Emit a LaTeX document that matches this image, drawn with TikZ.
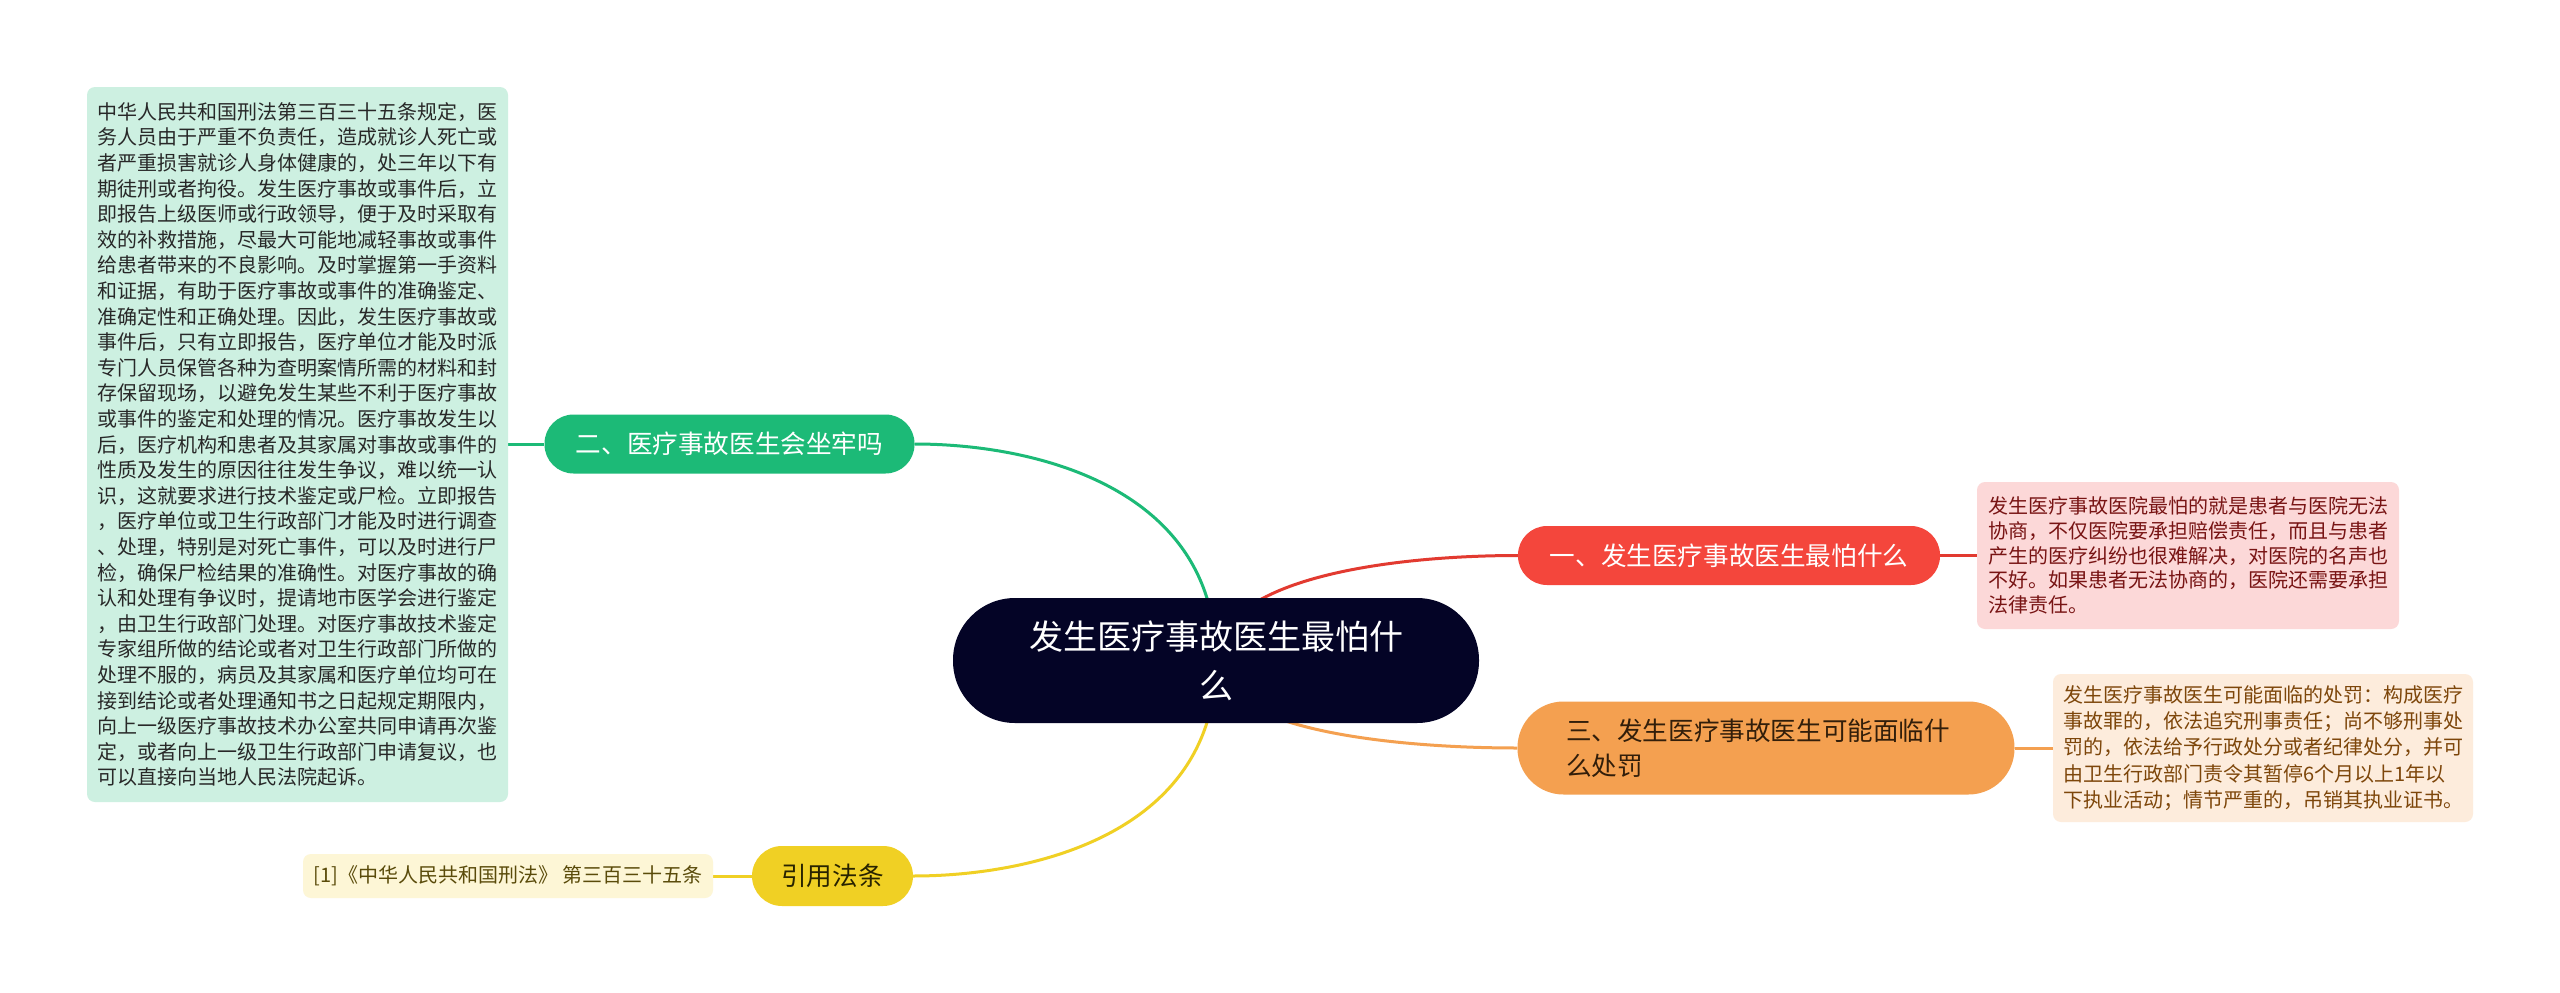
\documentclass[tikz,border=0pt]{standalone}
\usepackage{fontspec}
\setmainfont{Noto Sans CJK SC}
\usetikzlibrary{calc}
\pgfdeclarelayer{paper}
\pgfdeclarelayer{bg}
\pgfsetlayers{paper,bg,main}
\definecolor{navy}{RGB}{4,4,38}
\definecolor{gcol}{RGB}{28,186,119}
\definecolor{gbox}{RGB}{205,240,225}
\definecolor{rcol}{RGB}{244,70,60}
\definecolor{rline}{RGB}{226,58,48}
\definecolor{rbox}{RGB}{252,216,216}
\definecolor{rtxt}{RGB}{120,20,20}
\definecolor{ocol}{RGB}{244,160,80}
\definecolor{otxt}{RGB}{50,30,10}
\definecolor{obox}{RGB}{253,236,220}
\definecolor{otxt2}{RGB}{125,70,10}
\definecolor{ycol}{RGB}{240,208,36}
\definecolor{ytxt}{RGB}{40,35,0}
\definecolor{ybox}{RGB}{253,246,214}
\definecolor{ytxt2}{RGB}{90,75,10}
\definecolor{darktxt}{RGB}{40,40,40}
\newcommand{\branchcurve}[3]{%
  \draw[link, #1] (#2) .. controls ($(#2 |- #3)!0.2!(#2)$) and ($(#2 |- #3)!0.6!(#3)$) .. (#3);}
\begin{document}
\begin{tikzpicture}[x=1pt,y=-1pt,
  topic/.style={rounded corners=29pt, inner sep=0pt, minimum height=59pt,
    font=\fontsize{25.6pt}{30pt}\selectfont},
  note/.style={rounded corners=8pt, inner sep=0pt, align=left,
    font=\fontsize{20pt}{25.6pt}\selectfont},
  link/.style={line width=3pt}]
\useasboundingbox (0,0) rectangle (2560,993);
\begin{pgfonlayer}{paper}
\fill[white] (0,0) rectangle (2560,993);
\end{pgfonlayer}

% central
\node[fill=navy, text=white, rounded corners=62pt, inner sep=0pt,
  minimum width=526pt, minimum height=125pt, align=center,
  font=\fontsize{34pt}{49pt}\selectfont] (c) at (1216,660.5)
  {发生医疗事故医生最怕什\\么};
\coordinate (cc) at (1216,660.5);

% topics
\node[topic, fill=gcol, text=white, minimum width=370pt] (g) at (729.5,444) {二、医疗事故医生会坐牢吗};
\node[topic, fill=rcol, text=white, minimum width=422pt] (r) at (1729,555.5) {一、发生医疗事故医生最怕什么};
\node[topic, fill=ocol, text=otxt, minimum width=497pt, minimum height=93pt,
  rounded corners=46pt, text width=400pt, align=left,
  font=\fontsize{25.6pt}{35pt}\selectfont] (o) at (1766,748)
  {三、发生医疗事故医生可能面临什\\么处罚};
\node[topic, fill=ycol, text=ytxt, minimum width=161pt, minimum height=60pt,
  rounded corners=30pt] (y) at (832.5,876) {引用法条};

% notes
\node[note, fill=gbox, text=darktxt, minimum width=421pt, minimum height=715pt] (gt) at (297.5,444.5)
{中华人民共和国刑法第三百三十五条规定，医\\
务人员由于严重不负责任，造成就诊人死亡或\\
者严重损害就诊人身体健康的，处三年以下有\\
期徒刑或者拘役。发生医疗事故或事件后，立\\
即报告上级医师或行政领导，便于及时采取有\\
效的补救措施，尽最大可能地减轻事故或事件\\
给患者带来的不良影响。及时掌握第一手资料\\
和证据，有助于医疗事故或事件的准确鉴定、\\
准确定性和正确处理。因此，发生医疗事故或\\
事件后，只有立即报告，医疗单位才能及时派\\
专门人员保管各种为查明案情所需的材料和封\\
存保留现场，以避免发生某些不利于医疗事故\\
或事件的鉴定和处理的情况。医疗事故发生以\\
后，医疗机构和患者及其家属对事故或事件的\\
性质及发生的原因往往发生争议，难以统一认\\
识，这就要求进行技术鉴定或尸检。立即报告\\
，医疗单位或卫生行政部门才能及时进行调查\\
、处理，特别是对死亡事件，可以及时进行尸\\
检，确保尸检结果的准确性。对医疗事故的确\\
认和处理有争议时，提请地市医学会进行鉴定\\
，由卫生行政部门处理。对医疗事故技术鉴定\\
专家组所做的结论或者对卫生行政部门所做的\\
处理不服的，病员及其家属和医疗单位均可在\\
接到结论或者处理通知书之日起规定期限内，\\
向上一级医疗事故技术办公室共同申请再次鉴\\
定，或者向上一级卫生行政部门申请复议，也\\
可以直接向当地人民法院起诉。};

\node[note, fill=rbox, text=rtxt, minimum width=422pt, minimum height=147pt,
  font=\fontsize{20pt}{24.6pt}\selectfont] (rt) at (2188,555.5)
{发生医疗事故医院最怕的就是患者与医院无法\\
协商，不仅医院要承担赔偿责任，而且与患者\\
产生的医疗纠纷也很难解决，对医院的名声也\\
不好。如果患者无法协商的，医院还需要承担\\
法律责任。};

\node[note, fill=obox, text=otxt2, minimum width=420pt, minimum height=148pt,
  font=\fontsize{20pt}{26.4pt}\selectfont] (ot) at (2263,748)
{发生医疗事故医生可能面临的处罚：构成医疗\\
事故罪的，依法追究刑事责任；尚不够刑事处\\
罚的，依法给予行政处分或者纪律处分，并可\\
由卫生行政部门责令其暂停6个月以上1年以\\
下执业活动；情节严重的，吊销其执业证书。};

\node[note, fill=ybox, text=ytxt2, minimum width=410pt, minimum height=44pt] (yt) at (508,876)
{[1]《中华人民共和国刑法》 第三百三十五条};

% connectors
\begin{pgfonlayer}{bg}
\coordinate (ge) at (g.east);
\coordinate (rw) at (r.west);
\coordinate (ow) at (o.west);
\coordinate (ye) at (y.east);
\branchcurve{gcol}{cc}{ge}
\branchcurve{rline}{cc}{rw}
\branchcurve{ocol}{cc}{ow}
\branchcurve{ycol}{cc}{ye}
\draw[link, gcol] (g.west) -- (gt.east |- g.west);
\draw[link, rline] (r.east) -- (rt.west |- r.east);
\draw[link, ocol] (o.east) -- (ot.west |- o.east);
\draw[link, ycol] (y.west) -- (yt.east |- y.west);
\end{pgfonlayer}
\end{tikzpicture}
\end{document}
